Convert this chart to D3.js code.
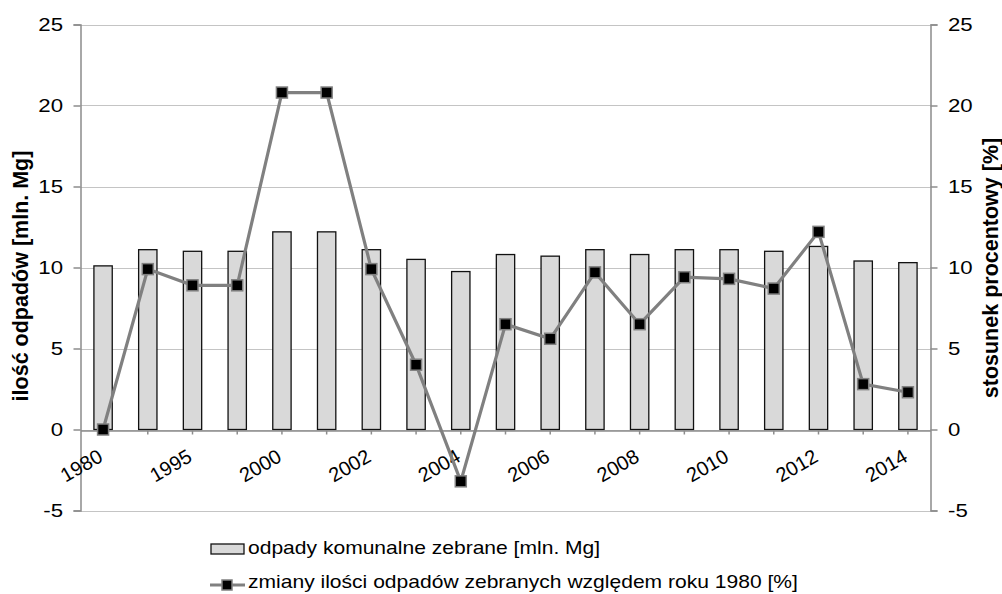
<!DOCTYPE html>
<html>
<head>
<meta charset="utf-8">
<title>Odpady komunalne</title>
<style>
  body { margin: 0; background: #fff; }
  text { font-family: "Liberation Sans", Arial, sans-serif; fill: #000; }
</style>
</head>
<body>
<script src="https://cdn.jsdelivr.net/npm/d3@7"></script>
<script>
// DATA
var years = ["1980", "1990", "1995", "1999", "2000", "2001", "2002", "2003", "2004", "2005",
             "2006", "2007", "2008", "2009", "2010", "2011", "2012", "2013", "2014"];
var collected = [10.1, 11.1, 11.0, 11.0, 12.2, 12.2, 11.1, 10.5, 9.75, 10.8,
                 10.7, 11.1, 10.8, 11.1, 11.1, 11.0, 11.3, 10.4, 10.3];
var change = [0, 9.9, 8.9, 8.9, 20.8, 20.8, 9.9, 4.0, -3.2, 6.5,
              5.6, 9.7, 6.5, 9.4, 9.3, 8.7, 12.2, 2.8, 2.3];
var yTicks = [-5, 0, 5, 10, 15, 20, 25];
var barName = "odpady komunalne zebrane [mln. Mg]";
var lineName = "zmiany ilości odpadów zebranych względem roku 1980 [%]";

var W = 1002, H = 594;
var pLeft = 80.5, pRight = 930.5, pTop = 24.5, pBottom = 510.5;
var SX = 1.17; // the source picture is a bit wider than tall

var svg = d3.select("body").append("svg")
  .attr("width", W)
  .attr("height", H);

var x = d3.scaleBand().domain(years).range([pLeft, pRight]).paddingInner(0.59).paddingOuter(0.3);
var y = d3.scaleLinear().domain([-5, 25]).range([pBottom, pTop]);   // left axis
var y2 = d3.scaleLinear().domain([-5, 25]).range([pBottom, pTop]);  // right axis

function cx(d) { return x(d) + x.bandwidth() / 2; }

// gridlines
svg.append("g").selectAll("line")
  .data(yTicks)
  .enter().append("line")
    .attr("x1", pLeft).attr("x2", pRight)
    .attr("y1", function(d) { return Math.round(y(d)) + 0.5; })
    .attr("y2", function(d) { return Math.round(y(d)) + 0.5; })
    .attr("stroke", "#c4c4c4")
    .attr("stroke-width", 1.2);

// bars
svg.append("g").selectAll("rect")
  .data(years)
  .enter().append("rect")
    .attr("x", function(d) { return x(d); })
    .attr("width", x.bandwidth())
    .attr("y", function(d, i) { return y(collected[i]); })
    .attr("height", function(d, i) { return y(0) - y(collected[i]); })
    .attr("fill", "#d9d9d9")
    .attr("stroke", "#111")
    .attr("stroke-width", 1.3);

// axes (labels drawn separately)
var axL = svg.append("g")
  .attr("transform", "translate(" + pLeft + ",0)")
  .call(d3.axisLeft(y).tickValues(yTicks).tickSize(7).tickFormat(""));
var axR = svg.append("g")
  .attr("transform", "translate(" + pRight + ",0)")
  .call(d3.axisRight(y2).tickValues(yTicks).tickSize(7).tickFormat(""));
var axX = svg.append("g")
  .attr("transform", "translate(0," + (Math.round(y(0)) + 0.5) + ")")
  .call(d3.axisBottom(x).tickSize(4).tickSizeOuter(0).tickFormat(""));

[axL, axR, axX].forEach(function(a) {
  a.select(".domain").attr("stroke", "#8c8c8c").attr("stroke-width", 1.5);
  a.selectAll(".tick line").attr("stroke", "#8c8c8c").attr("stroke-width", 1.5);
});

// y tick labels
svg.append("g").selectAll("text")
  .data(yTicks)
  .enter().append("text")
    .attr("transform", function(d) { return "translate(63," + y(d) + ") scale(" + SX + ",1)"; })
    .attr("text-anchor", "end")
    .attr("dy", "0.36em")
    .style("font-size", "19px")
    .text(function(d) { return d; });

svg.append("g").selectAll("text")
  .data(yTicks)
  .enter().append("text")
    .attr("transform", function(d) { return "translate(948," + y2(d) + ") scale(" + SX + ",1)"; })
    .attr("dy", "0.36em")
    .style("font-size", "19px")
    .text(function(d) { return d; });

// x labels, every second year
svg.append("g").selectAll("text")
  .data(years.filter(function(d, i) { return i % 2 === 0; }))
  .enter().append("text")
    .attr("transform", function(d) { return "translate(" + (cx(d) + 1) + "," + (y(0) + 31) + ") rotate(-30)"; })
    .attr("text-anchor", "end")
    .style("font-size", "20px")
    .text(function(d) { return d; });

// line series
var line = d3.line()
  .x(function(d, i) { return cx(years[i]); })
  .y(function(d) { return y2(d); });

svg.append("path")
  .datum(change)
  .attr("d", line)
  .attr("fill", "none")
  .attr("stroke", "#808080")
  .attr("stroke-width", 3.2);

var ms = 11;
svg.append("g").selectAll("rect")
  .data(change)
  .enter().append("rect")
    .attr("x", function(d, i) { return cx(years[i]) - ms / 2; })
    .attr("y", function(d) { return y2(d) - ms / 2; })
    .attr("width", ms).attr("height", ms)
    .attr("fill", "#000")
    .attr("stroke", "#808080")
    .attr("stroke-width", 1.5);

// axis titles
svg.append("text")
  .attr("transform", "translate(28,276) rotate(-90)")
  .attr("text-anchor", "middle")
  .style("font-size", "21.5px").style("font-weight", "bold")
  .text("ilość odpadów [mln. Mg]");

svg.append("text")
  .attr("transform", "translate(998,268) rotate(-90)")
  .attr("text-anchor", "middle")
  .style("font-size", "21.5px").style("font-weight", "bold")
  .text("stosunek procentowy [%]");

// legend
var lg = svg.append("g");
lg.append("rect")
  .attr("x", 211).attr("y", 544).attr("width", 33).attr("height", 10)
  .attr("fill", "#d9d9d9").attr("stroke", "#111").attr("stroke-width", 1.3);
lg.append("text")
  .attr("transform", "translate(248,554) scale(" + SX + ",1)")
  .style("font-size", "18px")
  .text(barName);

lg.append("line")
  .attr("x1", 210).attr("x2", 245).attr("y1", 585).attr("y2", 585)
  .attr("stroke", "#808080").attr("stroke-width", 3.2);
lg.append("rect")
  .attr("x", 227 - 5).attr("y", 585 - 5).attr("width", 10).attr("height", 10)
  .attr("fill", "#000").attr("stroke", "#808080").attr("stroke-width", 1.5);
lg.append("text")
  .attr("transform", "translate(248,588) scale(" + SX + ",1)")
  .style("font-size", "18px")
  .text(lineName);
</script>
</body>
</html>
